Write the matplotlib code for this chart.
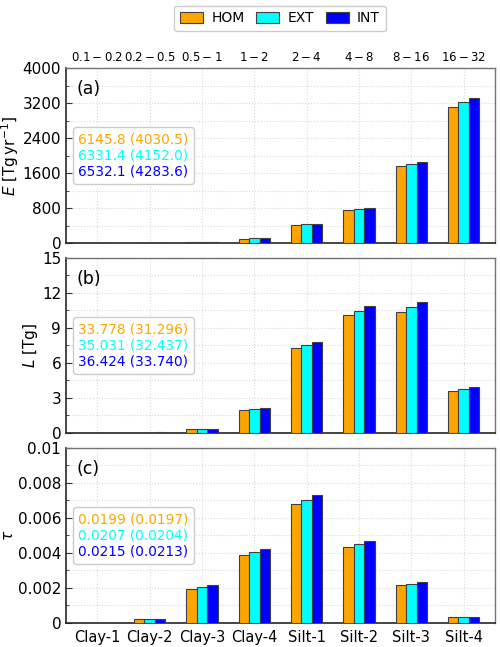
import numpy as np
import matplotlib
matplotlib.use('Agg')
import matplotlib.pyplot as plt
from matplotlib.patches import Patch
from matplotlib.ticker import MultipleLocator

plt.rcParams['font.family'] = 'DejaVu Sans'
plt.rcParams['mathtext.fontset'] = 'dejavusans'

# categories and size ranges
bins = ['Clay-1', 'Clay-2', 'Clay-3', 'Clay-4', 'Silt-1', 'Silt-2', 'Silt-3', 'Silt-4']
ranges = ['0.1-0.2', '0.2-0.5', '0.5-1', '1-2', '2-4', '4-8', '8-16', '16-32']
schemes = ['HOM', 'EXT', 'INT']
colors = ['orange', 'cyan', 'blue']

# (a) emission E [Tg/yr]
E_hom = [0.3, 3, 20, 100, 410, 745, 1750, 3117]
E_ext = [0.3, 3, 21, 104, 425, 768, 1795, 3215]
E_int = [0.3, 3.2, 22, 108, 440, 792, 1845, 3322]
# (b) load L [Tg]
L_hom = [0.002, 0.04, 0.35, 1.96, 7.30, 10.12, 10.37, 3.62]
L_ext = [0.002, 0.04, 0.36, 2.05, 7.50, 10.47, 10.80, 3.79]
L_int = [0.002, 0.045, 0.38, 2.12, 7.82, 10.86, 11.23, 3.94]
# (c) optical depth tau
T_hom = [0.00001, 0.00025, 0.00195, 0.00391, 0.00678, 0.00437, 0.00215, 0.00033]
T_ext = [0.00001, 0.00024, 0.00203, 0.00408, 0.00703, 0.00452, 0.00224, 0.00036]
T_int = [0.00001, 0.00024, 0.00215, 0.00425, 0.00730, 0.00471, 0.00232, 0.00036]

# totals shown in the boxes
tot_E = ['6145.8 (4030.5)', '6331.4 (4152.0)', '6532.1 (4283.6)']
tot_L = ['33.778 (31.296)', '35.031 (32.437)', '36.424 (33.740)']
tot_T = ['0.0199 (0.0197)', '0.0207 (0.0204)', '0.0215 (0.0213)']

panels = [
    ('(a)', [E_hom, E_ext, E_int], tot_E, r'$E$ [Tg$\,$yr$^{-1}$]', 4000, 800, 400),
    ('(b)', [L_hom, L_ext, L_int], tot_L, r'$L$ [Tg]', 15, 3, 1.5),
    ('(c)', [T_hom, T_ext, T_int], tot_T, r'$\tau$', 0.01, 0.002, 0.001),
]

fig = plt.figure(figsize=(5, 6.47), dpi=100)
x = np.arange(len(bins))
w = 0.2
bottoms = [0.6244, 0.3308, 0.0371]
bars = []
for i, (lab, series, tots, ylab, ymax, major, minor) in enumerate(panels):
    ax = fig.add_axes([0.132, bottoms[i], 0.858, 0.2705])
    for j, vals in enumerate(series):
        b = ax.bar(x + (j - 1) * w, vals, w, color=colors[j], edgecolor='0.25',
                   linewidth=0.8, zorder=3, label=schemes[j])
        if i == 0:
            bars.append(b)
    ax.set_xlim(-0.6, 7.6)
    ax.set_ylim(0, ymax)
    ax.yaxis.set_major_locator(MultipleLocator(major))
    ax.yaxis.set_minor_locator(MultipleLocator(minor))
    ax.set_xticks(x)
    ax.grid(which='major', color='0.85', linestyle=':', linewidth=0.8, zorder=0)
    ax.grid(which='minor', axis='y', color='0.85', linestyle=':', linewidth=0.8, zorder=0)
    ax.tick_params(axis='y', direction='in', which='both', labelsize=11, color='0.2')
    ax.tick_params(axis='y', which='major', length=4)
    ax.tick_params(axis='y', which='minor', length=2)
    ax.tick_params(axis='x', length=0, pad=5)
    for s in ax.spines.values():
        s.set_color('0.45')
        s.set_linewidth(1.0)
    ax.spines['left'].set_color('0.15')
    ax.spines['bottom'].set_color('0.15')
    ax.spines['left'].set_linewidth(1.2)
    ax.spines['bottom'].set_linewidth(1.2)
    if i == 2:
        ax.set_xticklabels(bins, fontsize=10.5)
        ax.yaxis.set_major_formatter(lambda v, p: '0' if v == 0 else f'{v:g}')
    else:
        ax.set_xticklabels([])
    if i == 0:
        ax.tick_params(axis='x', labeltop=True, labelbottom=False, pad=3)
        ax.set_xticklabels(['$' + r + '$' for r in ranges], fontsize=8.5)
    ax.set_ylabel(ylab, fontsize=11, labelpad=1)
    ax.text(0.025, 0.93, lab, transform=ax.transAxes, fontsize=12.5, va='top', ha='left')
    hs = [Patch(visible=False) for _ in range(3)]
    ax.legend(hs, tots, loc='center left', handlelength=0, handletextpad=0,
              labelcolor=colors, fontsize=9.8, framealpha=1, edgecolor='0.8',
              borderpad=0.4, labelspacing=0.15, bbox_to_anchor=(0.0, 0.5))
    ax.set_axisbelow(True)

fig.legend(bars, schemes, loc='center', ncol=3, bbox_to_anchor=(0.56, 0.972),
           fontsize=10, handlelength=1.65, handleheight=0.8, columnspacing=0.85,
           handletextpad=0.6, edgecolor='0.8', framealpha=1, borderpad=0.4)

fig.savefig('out.png', dpi=100)
